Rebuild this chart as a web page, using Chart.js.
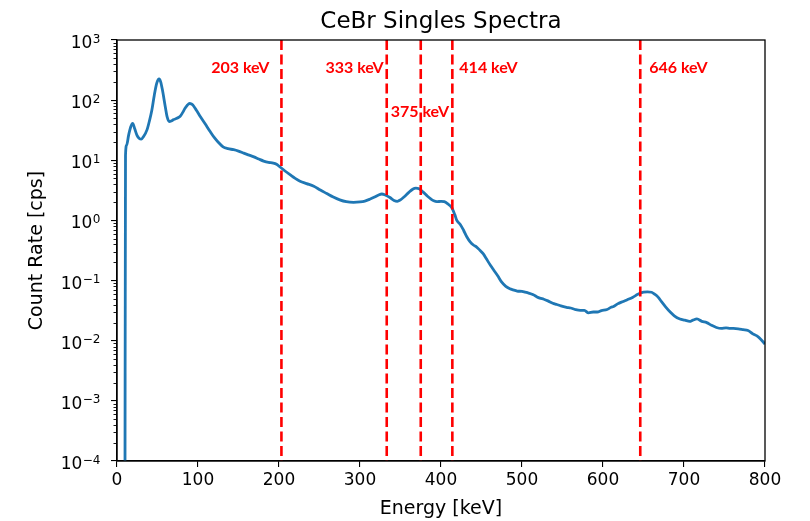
<!DOCTYPE html>
<html>
<head>
<meta charset="utf-8">
<script src="https://cdn.jsdelivr.net/npm/chart.js@4.4.1/dist/chart.umd.min.js"></script>
<style>
  html, body { margin: 0; padding: 0; background: #fff; }
  canvas { display: block; }
</style>
</head>
<body>
<canvas id="spectrum" width="810" height="521"></canvas>
<script>
// CeBr detector singles spectrum, count rate per energy
const energies = [
  9.8, 10.5, 12, 14.3, 17, 19.3, 22, 24.7, 27.5, 30, 33, 37, 40, 43, 46, 49, 52, 54, 56, 59.6,
  62, 64.5, 67, 70, 74, 78, 81, 84, 87, 89.6, 92, 94, 98, 103, 109, 115, 120, 125, 131, 137,
  144, 150, 156, 162, 169, 175, 181, 187, 193, 197, 201, 207, 214, 220, 226, 234, 243, 251, 259, 267,
  275, 283, 292, 300, 306, 312, 318, 323, 327, 331, 337, 342, 346, 350, 355, 360, 365, 369, 373, 378,
  383, 387, 391, 395, 400, 404, 408, 413, 417, 419.5, 424, 428, 432, 436, 440, 444, 448, 452, 456, 461,
  465, 470, 475, 480, 485, 489, 494, 500, 504, 508, 514, 518, 522, 527, 532, 538, 543, 548, 555, 560,
  566, 572, 577, 582, 588, 593, 598, 605, 610, 613, 618, 625, 630, 637, 643, 650, 655, 660, 664, 668,
  672, 677, 683, 688, 695, 701, 707, 711, 716, 722, 728, 734, 740, 746, 752, 757, 761, 767, 773, 779,
  785, 790, 795, 800
];
const countRates = [
  1e-5, 12, 18, 26, 36, 41, 33, 26, 23, 22.5, 25, 32, 45, 68, 120, 190, 225, 200, 150, 78,
  52, 44, 45, 47.5, 50, 54, 62, 73, 83, 88, 86, 82, 68, 53, 40, 30, 24, 20, 16.7, 15.6,
  15, 14.2, 13.2, 12.3, 11.4, 10.5, 9.7, 9.2, 9.0, 8.6, 7.8, 6.7, 5.7, 5.0, 4.5, 4.1, 3.7, 3.2, 2.8, 2.45,
  2.2, 2.05, 2.0, 2.03, 2.1, 2.25, 2.45, 2.65, 2.75, 2.65, 2.4, 2.15, 2.08, 2.2, 2.5, 2.9, 3.3, 3.45, 3.35, 2.95,
  2.55, 2.3, 2.12, 2.05, 2.08, 2.05, 1.9, 1.65, 1.25, 1.0, 0.85, 0.68, 0.53, 0.44, 0.39, 0.36, 0.32, 0.28, 0.23, 0.18,
  0.15, 0.12, 0.094, 0.08, 0.073, 0.07, 0.067, 0.066, 0.064, 0.062, 0.058, 0.054, 0.051, 0.049, 0.046, 0.042, 0.040, 0.038, 0.036, 0.035,
  0.033, 0.032, 0.032, 0.029, 0.030, 0.030, 0.0316, 0.033, 0.036, 0.037, 0.041, 0.045, 0.048, 0.053, 0.059, 0.064, 0.065, 0.064, 0.059, 0.053,
  0.045, 0.037, 0.030, 0.026, 0.023, 0.022, 0.021, 0.022, 0.023, 0.021, 0.020, 0.018, 0.0166, 0.016, 0.0163, 0.016, 0.016, 0.0158, 0.0153, 0.0148,
  0.013, 0.012, 0.0105, 0.0088
];

// marked gamma peaks
const peakEnergies = [203, 333, 375, 414, 646];
const peakLabels = ['203 keV', '333 keV', '375 keV', '414 keV', '646 keV'];
const peakLabelRates = [340, 340, 63, 340, 340];

// log axis: decade ticks as base + exponent
const yTickValues = [1e-4, 1e-3, 1e-2, 1e-1, 1, 10, 100, 1000];
const yTickExponents = ['\u22124', '\u22123', '\u22122', '\u22121', '0', '1', '2', '3'];

const Y_MIN = 1e-4;
const Y_MAX = 1e3;
const TITLE = 'CeBr Singles Spectra';

// where each peak label sits next to its line (pixels)
const labelPlacement = [
  { align: 'right', dx: -12 },
  { align: 'right', dx: -3 },
  { align: 'left', dx: -30 },
  { align: 'left', dx: 7 },
  { align: 'left', dx: 9 }
];

Chart.defaults.font.family = "'DejaVu Sans', sans-serif";
Chart.defaults.color = '#000';

const spectrumPoints = energies.map((e, i) => ({ x: e, y: countRates[i] }));

const peakLineSets = peakEnergies.map(e => ({
  data: [{ x: e, y: Y_MAX }, { x: e, y: Y_MIN }],
  borderColor: '#ff0000',
  borderWidth: 2.6,
  borderDash: [10, 4.5],
  pointRadius: 0,
  order: 1
}));

const axesDecor = {
  id: 'axesDecor',
  afterDraw(chart) {
    const { ctx, chartArea, scales } = chart;
    const y = scales.y;
    ctx.save();
    ctx.strokeStyle = '#000';
    ctx.fillStyle = '#000';

    // minor ticks on the log axis
    ctx.lineWidth = 0.9;
    for (let k = -4; k < 3; k++) {
      for (let m = 2; m <= 9; m++) {
        const py = Math.round(y.getPixelForValue(m * Math.pow(10, k))) + 0.5;
        ctx.beginPath();
        ctx.moveTo(chartArea.left - 3.5, py);
        ctx.lineTo(chartArea.left, py);
        ctx.stroke();
      }
    }

    // decade labels, 10 with a raised exponent
    const right = chartArea.left - 17;
    ctx.textBaseline = 'alphabetic';
    ctx.textAlign = 'left';
    yTickValues.forEach((v, i) => {
      const py = y.getPixelForValue(v);
      ctx.font = "12px 'DejaVu Sans'";
      const expW = ctx.measureText(yTickExponents[i]).width;
      ctx.font = "17px 'DejaVu Sans'";
      const baseW = ctx.measureText('10').width;
      const x0 = right - expW - baseW;
      ctx.fillText('10', x0, py + 8);
      ctx.font = "12px 'DejaVu Sans'";
      ctx.fillText(yTickExponents[i], x0 + baseW + 0.5, py + 2.5);
    });

    // box around the plot
    ctx.lineWidth = 1.3;
    ctx.strokeRect(chartArea.left, chartArea.top, chartArea.right - chartArea.left, chartArea.bottom - chartArea.top);

    // title centred over the plot area
    ctx.font = "23px 'DejaVu Sans'";
    ctx.textAlign = 'center';
    ctx.fillText(TITLE, (chartArea.left + chartArea.right) / 2, 28);
    ctx.restore();
  }
};

const peakText = {
  id: 'peakText',
  afterDatasetsDraw(chart) {
    const { ctx, scales } = chart;
    ctx.save();
    ctx.font = "bold 16px Lato, 'Open Sans', sans-serif";
    ctx.fillStyle = '#ff0000';
    ctx.textBaseline = 'middle';
    peakEnergies.forEach((e, i) => {
      const place = labelPlacement[i];
      ctx.textAlign = place.align;
      const px = scales.x.getPixelForValue(e) + place.dx;
      const py = scales.y.getPixelForValue(peakLabelRates[i]);
      ctx.fillText(peakLabels[i], px, py);
    });
    ctx.restore();
  }
};

new Chart(document.getElementById('spectrum'), {
  type: 'line',
  data: {
    datasets: [
      {
        data: spectrumPoints,
        borderColor: '#1f77b4',
        borderWidth: 2.8,
        pointRadius: 0,
        cubicInterpolationMode: 'monotone',
        order: 2
      },
      ...peakLineSets
    ]
  },
  options: {
    responsive: false,
    animation: false,
    layout: { padding: { left: 0, right: 45, top: 40, bottom: 0 } },
    plugins: {
      legend: { display: false },
      tooltip: { enabled: false },
      title: { display: false }
    },
    scales: {
      x: {
        type: 'linear',
        min: 0,
        max: 800,
        ticks: { stepSize: 100, font: { size: 17 }, padding: 3, maxRotation: 0 },
        grid: { drawOnChartArea: false, color: '#000', tickLength: 6, lineWidth: 1.1 },
        border: { color: '#000', width: 1.3 },
        title: { display: true, text: 'Energy [keV]', font: { size: 19 }, padding: { top: 0, bottom: 1 } },
        afterFit(scale) { scale.height = 60; }
      },
      y: {
        type: 'logarithmic',
        min: Y_MIN,
        max: Y_MAX,
        afterBuildTicks(scale) {
          scale.ticks = yTickValues.map(v => ({ value: v }));
        },
        ticks: { display: false },
        grid: { drawOnChartArea: false, color: '#000', tickLength: 6, lineWidth: 1.1 },
        border: { color: '#000', width: 1.3 },
        title: { display: true, text: 'Count Rate [cps]', font: { size: 19 }, padding: { top: 26, bottom: 0 } },
        afterFit(scale) { scale.width = 117; }
      }
    }
  },
  plugins: [axesDecor, peakText]
});
</script>
</body>
</html>
